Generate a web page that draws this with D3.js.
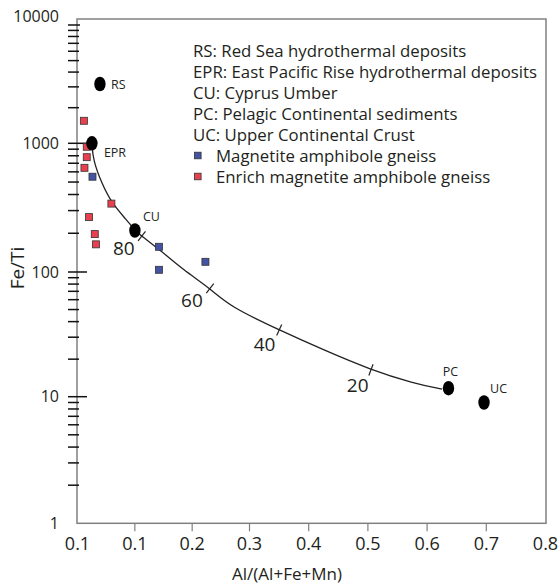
<!DOCTYPE html>
<html>
<head>
<meta charset="utf-8">
<script src="https://cdn.jsdelivr.net/npm/d3@7"></script>
<style>
	body { margin: 0; background: #fff; }
	svg text { font-family: 'Open Sans', sans-serif; fill: #231f20; }
</style>
</head>
<body>
<div id="chart"></div>
<script>
// axis ticks (the source figure prints 0.1 twice on the left)
var xTickValues = [0, 0.1, 0.2, 0.3, 0.4, 0.5, 0.6, 0.7, 0.8];
var xTickLabels = ['0.1', '0.1', '0.2', '0.3', '0.4', '0.5', '0.6', '0.7', '0.8'];
var yTickValues = [1, 10, 100, 1000, 10000];
var yTickLabels = ['1', '10', '100', '1000', '10000'];

// reference end-members
var refNames = ['RS', 'EPR', 'CU', 'PC', 'UC'];
var refX = [0.040, 0.026, 0.101, 0.637, 0.697];
var refY = [3170, 1000, 210, 11.7, 9.0];

// samples
var magnetiteX = [0.027, 0.143, 0.143, 0.224];
var magnetiteY = [550, 157, 104, 120];
var enrichX = [0.012, 0.017, 0.017, 0.013, 0.060, 0.021, 0.031, 0.033];
var enrichY = [1550, 940, 780, 645, 340, 267, 197, 164];

// mixing line EPR -> PC
var mixX = [0.026, 0.028, 0.043, 0.061, 0.087, 0.101, 0.113, 0.145, 0.185, 0.232, 0.267, 0.351, 0.426, 0.506, 0.578, 0.626];
var mixY = [1000, 741, 489, 340, 253, 210, 190, 148, 104, 74, 52.7, 34.3, 23.7, 16.4, 12.8, 11.5];
var mixTickLabels = ['80', '60', '40', '20'];
var mixTickX = [0.113, 0.232, 0.351, 0.506];
var mixTickY = [190, 74, 34.3, 16.4];

// legend
var legendNotes = [
	'RS: Red Sea hydrothermal deposits',
	'EPR: East Pacific Rise hydrothermal deposits',
	'CU: Cyprus Umber',
	'PC: Pelagic Continental sediments',
	'UC: Upper Continental Crust'
];
var seriesNames = ['Magnetite amphibole gneiss', 'Enrich magnetite amphibole gneiss'];

var seriesColors = ['#4553a3', '#e8404f'];

var width = 560;
var height = 586;

var svg = d3.select('#chart')
	.append('svg')
	.attr('width', width)
	.attr('height', height);

// the printed axes are not quite even, so the scales are piecewise
var x = d3.scaleLinear()
	.domain([0, 0.3, 0.8])
	.range([77, 249, 545]);

var y = d3.scaleLog()
	.domain([1, 10, 100, 1000, 10000])
	.range([523.3, 396.7, 272, 143.3, 25]);

var frameTop = 19;
var frameRight = 546;

// frame
svg.append('rect')
	.attr('x', x(0))
	.attr('y', frameTop)
	.attr('width', frameRight - x(0))
	.attr('height', y(1) - frameTop)
	.attr('fill', 'none')
	.attr('stroke', '#808080')
	.attr('stroke-width', 1.5);

// x axis
var xAxis = svg.append('g')
	.attr('transform', 'translate(0,' + y(1) + ')')
	.call(d3.axisBottom(x)
		.tickValues(xTickValues)
		.tickFormat(function(d, i) { return xTickLabels[i]; })
		.tickSize(8)
		.tickPadding(6));

xAxis.select('.domain').remove();
xAxis.selectAll('.tick line')
	.attr('stroke', '#808080')
	.attr('stroke-width', 1.2)
	.attr('opacity', function(d, i) {
		return (i === 0 || i === xTickValues.length - 1) ? 0 : 1;
	});
xAxis.selectAll('.tick text')
	.attr('fill', '#231f20')
	.style('font-family', "'Open Sans', sans-serif")
	.style('font-size', '18px');

// y axis labels
var yAxis = svg.append('g')
	.attr('transform', 'translate(' + x(0) + ',0)')
	.call(d3.axisLeft(y)
		.tickValues(yTickValues)
		.tickFormat(function(d, i) { return yTickLabels[i]; })
		.tickSize(0)
		.tickPadding(18));

yAxis.select('.domain').remove();
yAxis.selectAll('.tick text')
	.attr('fill', '#231f20')
	.attr('dy', function(d) { return d === 10000 ? '-0.2em' : '0.32em'; })
	.style('font-family', "'Open Sans', sans-serif")
	.style('font-size', '16px');

// y ticks, minor ones outside, major ones crossing the axis
var minorTicks = [];
yTickValues.slice(0, -1).forEach(function(base) {
	for (var m = 2; m <= 9; m++) {
		minorTicks.push(base * m);
	}
});

svg.append('g')
	.selectAll('line')
	.data(minorTicks)
	.enter()
	.append('line')
	.attr('x1', x(0) - 9)
	.attr('x2', x(0) + 2)
	.attr('y1', function(d) { return y(d); })
	.attr('y2', function(d) { return y(d); })
	.attr('stroke', '#111')
	.attr('stroke-width', 1.5);

svg.append('g')
	.selectAll('line')
	.data(yTickValues.slice(1))
	.enter()
	.append('line')
	.attr('x1', x(0) - 9)
	.attr('x2', function(d) { return d === 10000 ? x(0) + 3 : x(0) + 10; })
	.attr('y1', function(d) { return y(d); })
	.attr('y2', function(d) { return y(d); })
	.attr('stroke', '#111')
	.attr('stroke-width', 1.5);

// axis titles
svg.append('text')
	.attr('x', 287)
	.attr('y', 573)
	.attr('text-anchor', 'middle')
	.attr('dominant-baseline', 'central')
	.style('font-size', '17px')
	.text('Al/(Al+Fe+Mn)');

svg.append('text')
	.attr('transform', 'translate(17,268) rotate(-90)')
	.attr('text-anchor', 'middle')
	.attr('dominant-baseline', 'central')
	.style('font-size', '19px')
	.text('Fe/Ti');

// mixing curve
var mixPoints = mixX.map(function(d, i) { return [x(d), y(mixY[i])]; });

svg.append('path')
	.datum(mixPoints)
	.attr('d', d3.line().curve(d3.curveBasis))
	.attr('fill', 'none')
	.attr('stroke', '#222')
	.attr('stroke-width', 1.3);

// percentage ticks across the curve
mixTickX.forEach(function(tx, i) {
	var px = x(tx);
	var py = y(mixTickY[i]);
	var k = d3.minIndex(mixX, function(d) { return Math.abs(d - tx); });
	var a = mixPoints[Math.max(k - 1, 0)];
	var b = mixPoints[Math.min(k + 1, mixPoints.length - 1)];
	var dx = b[0] - a[0];
	var dy = b[1] - a[1];
	var len = Math.sqrt(dx * dx + dy * dy);
	var nx = -dy / len;
	var ny = dx / len;

	svg.append('line')
		.attr('x1', px - nx * 6)
		.attr('y1', py - ny * 6)
		.attr('x2', px + nx * 6)
		.attr('y2', py + ny * 6)
		.attr('stroke', '#222')
		.attr('stroke-width', 1.2);

	svg.append('text')
		.attr('x', px + nx * 18 - 7)
		.attr('y', py + ny * 18 - 2)
		.attr('text-anchor', 'middle')
		.attr('dominant-baseline', 'central')
		.style('font-size', '19px')
		.text(mixTickLabels[i]);
});

// sample squares
function drawSquares(xs, ys, color) {
	svg.append('g')
		.selectAll('rect')
		.data(xs)
		.enter()
		.append('rect')
		.attr('x', function(d) { return x(d) - 3.5; })
		.attr('y', function(d, i) { return y(ys[i]) - 3.5; })
		.attr('width', 7)
		.attr('height', 7)
		.attr('fill', color)
		.attr('stroke', '#333')
		.attr('stroke-width', 0.8);
}

drawSquares(enrichX, enrichY, seriesColors[1]);
drawSquares(magnetiteX, magnetiteY, seriesColors[0]);

// end-members
svg.append('g')
	.selectAll('ellipse')
	.data(refX)
	.enter()
	.append('ellipse')
	.attr('cx', function(d) { return x(d); })
	.attr('cy', function(d, i) { return y(refY[i]); })
	.attr('rx', 5.7)
	.attr('ry', 7.3)
	.attr('fill', '#000');

var refLabelOffset = {
	RS: [11, 0],
	EPR: [12, 9],
	CU: [8, -14],
	PC: [2, -17],
	UC: [6, -14]
};

svg.append('g')
	.selectAll('text')
	.data(refNames)
	.enter()
	.append('text')
	.attr('x', function(d, i) { return x(refX[i]) + refLabelOffset[d][0]; })
	.attr('y', function(d, i) { return y(refY[i]) + refLabelOffset[d][1]; })
	.attr('text-anchor', function(d) { return (d === 'PC') ? 'middle' : 'start'; })
	.attr('dominant-baseline', 'central')
	.style('font-size', '12.5px')
	.text(function(d) { return d; });

// legend
var legend = svg.append('g')
	.attr('transform', 'translate(193,50.5)');

legend.selectAll('text.note')
	.data(legendNotes)
	.enter()
	.append('text')
	.attr('class', 'note')
	.attr('x', 0)
	.attr('y', function(d, i) { return i * 21; })
	.attr('dominant-baseline', 'central')
	.style('font-size', '16.8px')
	.text(function(d) { return d; });

var series = legend.selectAll('g.series')
	.data(seriesNames)
	.enter()
	.append('g')
	.attr('class', 'series')
	.attr('transform', function(d, i) { return 'translate(0,' + (legendNotes.length + i) * 21 + ')'; });

series.append('rect')
	.attr('x', 1.5)
	.attr('y', -3.3)
	.attr('width', 6.6)
	.attr('height', 6.6)
	.attr('fill', function(d, i) { return seriesColors[i]; })
	.attr('stroke', '#333')
	.attr('stroke-width', 0.8);

series.append('text')
	.attr('x', 23)
	.attr('y', 0)
	.attr('dominant-baseline', 'central')
	.style('font-size', '16.8px')
	.text(function(d) { return d; });
</script>
</body>
</html>
